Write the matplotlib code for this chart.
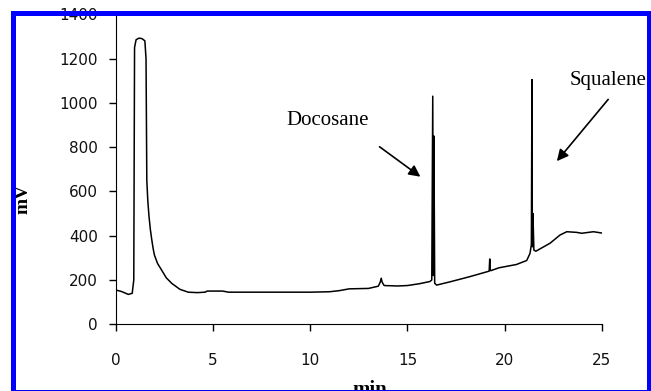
import matplotlib
matplotlib.use('Agg')
import matplotlib.pyplot as plt
from matplotlib.patches import Rectangle

# 色谱图数据 (时间 min, 信号 mV)
time_min = [0, 0.3, 0.65, 0.85, 0.93, 0.97, 1.05, 1.2, 1.35, 1.5, 1.56, 1.6,
            1.65, 1.71, 1.78, 1.85, 1.92, 1.99, 2.15, 2.36, 2.6, 2.88, 3.3,
            3.73, 4.2, 4.6, 4.7, 5.5, 5.8, 6.0, 8.0, 10.0, 11.0, 11.5, 12.0,
            13.0, 13.5, 13.6, 13.65, 13.7, 13.8, 14.5, 15.0, 15.6, 16.15,
            16.25, 16.3, 16.33, 16.36, 16.4, 16.5, 17.2, 18.2, 19.2, 19.23,
            19.25, 19.28, 19.7, 20.6, 21.13, 21.3, 21.37, 21.4, 21.42, 21.45,
            21.5, 21.6, 22.33, 22.84, 23.19, 23.7, 23.96, 24.56, 25.0]
signal_mv = [155, 148, 135, 140, 200, 1250, 1285, 1292, 1290, 1280, 1200, 650,
             560, 490, 430, 385, 345, 313, 275, 245, 210, 185, 158,
             145, 143, 145, 150, 150, 145, 145, 145, 145, 147, 152, 160,
             162, 172, 190, 208, 190, 175, 173, 175, 183, 193,
             200, 1030, 220, 850, 185, 177, 192, 215, 240, 295,
             250, 242, 255, 270, 288, 320, 360, 1105, 350, 500,
             335, 330, 366, 403, 418, 415, 411, 418, 412]

x_ticks = [0, 5, 10, 15, 20, 25]
y_ticks = [0, 200, 400, 600, 800, 1000, 1200, 1400]

fig = plt.figure(figsize=(6.51, 3.91), dpi=100)
ax = fig.add_axes([0.1777, 0.1706, 0.747, 0.793])

ax.plot(time_min, signal_mv, color='black', linewidth=1.1)

ax.set_xlim(0, 25)
ax.set_ylim(0, 1400)
ax.set_xticks(x_ticks)
ax.set_yticks(y_ticks)
ax.spines['top'].set_visible(False)
ax.spines['right'].set_visible(False)
ax.tick_params(axis='both', direction='out', length=5, width=1, labelsize=11,
               labelcolor='#111111')
ax.tick_params(axis='y', pad=8)
ax.tick_params(axis='x', pad=16)

# 峰标注
serif = 'Liberation Serif'
ax.text(8.76, 922, 'Docosane', family=serif, fontsize=15, va='center', ha='left')
ax.annotate('', xy=(15.78, 659), xytext=(13.45, 809),
            arrowprops=dict(arrowstyle='-|>', color='black', lw=1.2, mutation_scale=17))
ax.text(23.34, 1103, 'Squalene', family=serif, fontsize=15, va='center', ha='left',
        clip_on=False)
ax.annotate('', xy=(22.59, 727), xytext=(25.41, 1025), annotation_clip=False,
            arrowprops=dict(arrowstyle='-|>', color='black', lw=1.2, mutation_scale=17))

# 坐标轴标题
fig.text(23 / 651, 1 - 199 / 391, 'mV', rotation=90, ha='center', va='center',
         family=serif, fontweight='bold', fontsize=14)
fig.text(370 / 651, -4 / 391, 'min', ha='center', va='baseline',
         family=serif, fontweight='bold', fontsize=15)

# 蓝色边框
fig.patches.append(Rectangle((12.5 / 651, -0.5 / 391), 636 / 651, 379 / 391,
                             transform=fig.transFigure, fill=False,
                             edgecolor='#0000ff', linewidth=3.6, zorder=10))

fig.savefig('out.png', dpi=100)
